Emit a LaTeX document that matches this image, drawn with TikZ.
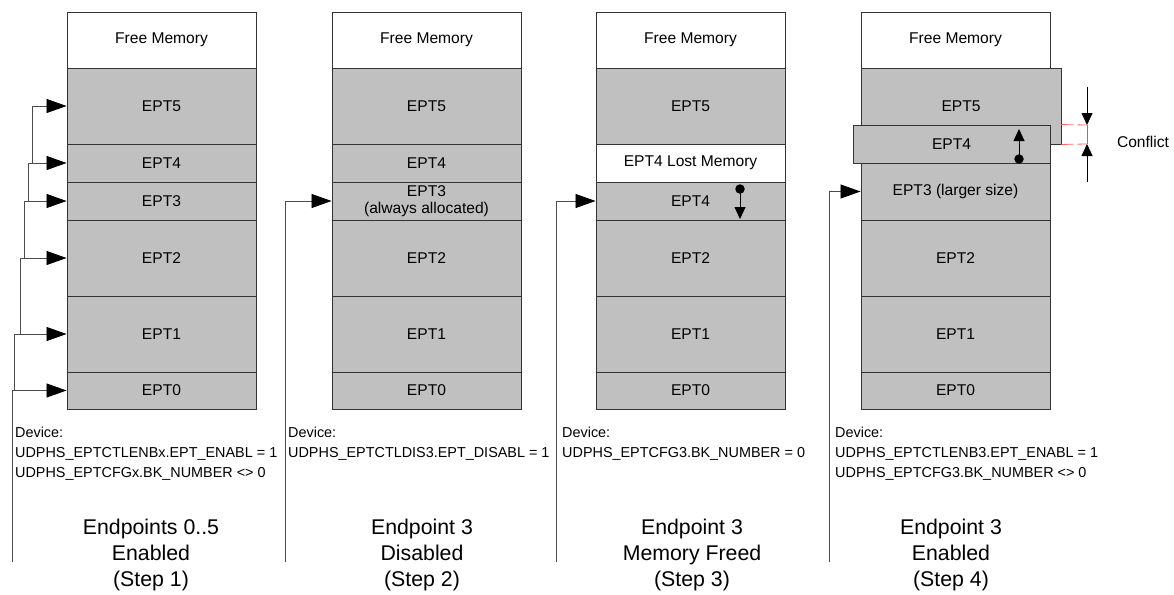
\documentclass[tikz,border=0pt]{standalone}
\usepackage{fontspec}
\setmainfont{Liberation Sans}
\usetikzlibrary{arrows.meta}
\definecolor{memgray}{HTML}{C0C0C0}
\definecolor{edge}{HTML}{333333}

\begin{document}
\begin{tikzpicture}[
        x=1pt, y=-1pt,
        every node/.append style={inner sep=0pt},
        blk/.style={draw=edge, line width=0.9pt, fill=memgray, minimum width=189pt,
            font=\fontsize{15.6}{17}\selectfont, align=center},
        free/.style={blk, fill=white},
        conn/.style={draw=black!70, line width=0.8pt, -{Triangle[length=20pt,width=14pt,color=black]}},
        move/.style={line width=0.8pt, -{Triangle[length=12pt,width=11pt]}},
        dot/.style={circle, fill=black, minimum size=9.5pt},
        dev/.style={anchor=north west, align=left, font=\fontsize{14.4}{20}\selectfont},
        steptitle/.style={align=center, font=\fontsize{21.3}{26}\selectfont},
        clash/.style={draw=red!60, line width=0.8pt, dash pattern=on 12pt off 4pt}
    ]
    \useasboundingbox (0,0) rectangle (1174,594);
    % step 1
    \begin{scope}
        \node[free, minimum height=56pt] (s1fr) at (161.5,40) {Free Memory};
        \node[blk, minimum height=76pt] (s1e5) at (161.5,106) {EPT5};
        \node[blk, minimum height=38pt] (s1e4) at (161.5,163) {EPT4};
        \node[blk, minimum height=38pt] (s1e3) at (161.5,201) {EPT3};
        \node[blk, minimum height=76pt] (s1e2) at (161.5,258) {EPT2};
        \node[blk, minimum height=76pt] (s1e1) at (161.5,334) {EPT1};
        \node[blk, minimum height=37pt] (s1e0) at (161.5,390.5) {EPT0};
        \coordinate (s1in) at (12,562);
        \draw[conn] (s1in) |- (s1e0.west);
        \draw[conn] ([xshift=-52pt]s1e0.west) |- (s1e1.west);
        \draw[conn] ([xshift=-46pt]s1e1.west) |- (s1e2.west);
        \draw[conn] ([xshift=-42pt]s1e2.west) |- (s1e3.west);
        \draw[conn] ([xshift=-38pt]s1e3.west) |- (s1e4.west);
        \draw[conn] ([xshift=-34pt]s1e4.west) |- (s1e5.west);
        \node[dev] (s1dev) at (15,427) {Device:\\UDPHS\_EPTCTLENBx.EPT\_ENABL = 1\\UDPHS\_EPTCFGx.BK\_NUMBER <> 0};
        \node[steptitle] (s1tt) at (151,555) {Endpoints 0..5\\Enabled\\(Step 1)};
    \end{scope}
    % step 2
    \begin{scope}[shift={(265,0)}]
        \node[free, minimum height=56pt] (s2fr) at (161.5,40) {Free Memory};
        \node[blk, minimum height=76pt] (s2e5) at (161.5,106) {EPT5};
        \node[blk, minimum height=38pt] (s2e4) at (161.5,163) {EPT4};
        \node[blk, minimum height=38pt] (s2e3) at (161.5,201) {EPT3\\(always allocated)};
        \node[blk, minimum height=76pt] (s2e2) at (161.5,258) {EPT2};
        \node[blk, minimum height=76pt] (s2e1) at (161.5,334) {EPT1};
        \node[blk, minimum height=37pt] (s2e0) at (161.5,390.5) {EPT0};
        \coordinate (s2in) at (20,562);
        \draw[conn] (s2in) |- (s2e3.west);
        \node[dev] (s2dev) at (23,427) {Device:\\UDPHS\_EPTCTLDIS3.EPT\_DISABL = 1};
        \node[steptitle] (s2tt) at (157,555) {Endpoint 3\\Disabled\\(Step 2)};
    \end{scope}
    % step 3
    \begin{scope}[shift={(529,0)}]
        \node[free, minimum height=56pt] (s3fr) at (161.5,40) {Free Memory};
        \node[blk, minimum height=76pt] (s3e5) at (161.5,106) {EPT5};
        \node[free, minimum height=38pt] (s3lost) at (161.5,163) {EPT4 Lost Memory};
        \node[blk, minimum height=38pt] (s3e4) at (161.5,201) {EPT4};
        \node[blk, minimum height=76pt] (s3e2) at (161.5,258) {EPT2};
        \node[blk, minimum height=76pt] (s3e1) at (161.5,334) {EPT1};
        \node[blk, minimum height=37pt] (s3e0) at (161.5,390.5) {EPT0};
        \coordinate (s3in) at (27,562);
        \draw[conn] (s3in) |- (s3e4.west);
        \node[dot] (s3pin) at (211,189) {};
        \coordinate (s3mv) at (211,219);
        \draw[move] (s3pin.center) -- (s3mv);
        \node[dev] (s3dev) at (33,427) {Device:\\UDPHS\_EPTCFG3.BK\_NUMBER = 0};
        \node[steptitle] (s3tt) at (163,555) {Endpoint 3\\Memory Freed\\(Step 3)};
    \end{scope}
    % step 4
    \begin{scope}[shift={(794,0)}]
        \node[free, minimum height=56pt] (s4fr) at (161.5,40) {Free Memory};
        \node[blk, minimum width=200pt, minimum height=76pt] (s4e5) at (167,106) {EPT5};
        \node[blk, minimum height=57pt] (s4e3) at (161.5,191.5) {EPT3 (larger size)};
        \node[blk, minimum height=76pt] (s4e2) at (161.5,258) {EPT2};
        \node[blk, minimum height=76pt] (s4e1) at (161.5,334) {EPT1};
        \node[blk, minimum height=37pt] (s4e0) at (161.5,390.5) {EPT0};
        \node[blk, minimum width=197pt, minimum height=38pt] (s4e4) at (157.5,144) {EPT4};
        \coordinate (s4in) at (35,562);
        \draw[conn] (s4in) |- (s4e3.west);
        \node[dot] (s4pin) at (225,159) {};
        \coordinate (s4mv) at (225,129);
        \draw[move] (s4pin.center) -- (s4mv);
        % conflict
        \coordinate (s4ct) at (293,87);
        \coordinate (s4cb) at (293,182);
        \coordinate (s4c1) at (293,125);
        \coordinate (s4c2) at (293,144);
        \draw[clash] (s4e5.east |- s4e4.north) -- (s4c1);
        \draw[clash] (s4e5.south east) -- (s4c2);
        \draw[gray, line width=0.6pt] (s4c1) -- (s4c2);
        \draw[move] (s4ct) -- (s4c1);
        \draw[move] (s4cb) -- (s4c2);
        \node[font=\fontsize{15.6}{17}\selectfont] (s4cf) at (349,142) {Conflict};
        \node[dev] (s4dev) at (41,427) {Device:\\UDPHS\_EPTCTLENB3.EPT\_ENABL = 1\\UDPHS\_EPTCFG3.BK\_NUMBER <> 0};
        \node[steptitle] (s4tt) at (157,555) {Endpoint 3\\Enabled\\(Step 4)};
    \end{scope}
\end{tikzpicture}
\end{document}
